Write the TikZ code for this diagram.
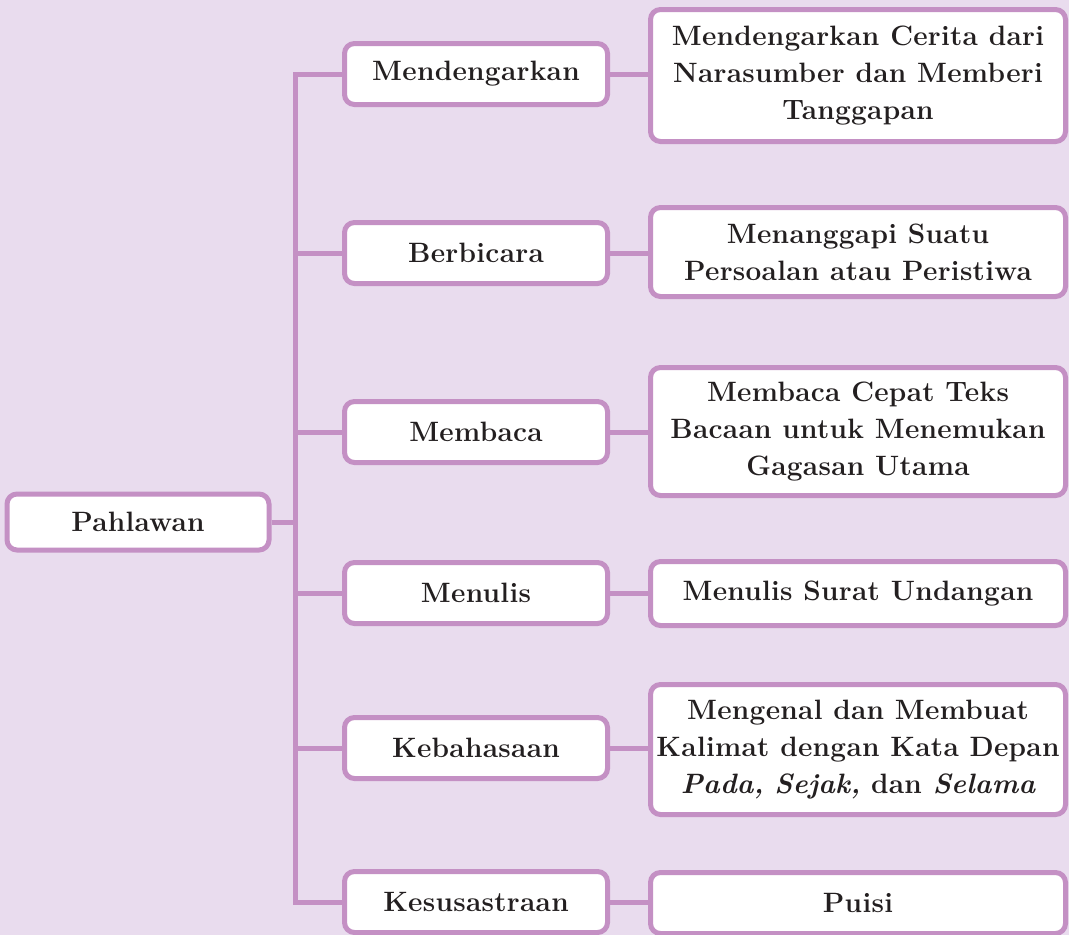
\documentclass[tikz,border=0pt]{standalone}
\usepackage{fontspec}
\setmainfont{Latin Modern Roman}[LetterSpace=1.0]
\definecolor{bgc}{HTML}{E9DCEE}
\definecolor{edge}{HTML}{C490C4}
\definecolor{ink}{HTML}{231F20}
\begin{document}
\begin{tikzpicture}[x=1pt,y=-1pt,
  box/.style={draw=edge, line width=5pt, fill=white, rounded corners=10pt,
    font=\fontsize{28}{37}\selectfont\bfseries, text=ink, align=center, inner sep=0pt},
  mid/.style={box, minimum width=263pt, minimum height=61pt},
  leaf/.style={box, minimum width=415pt},
  conn/.style={draw=edge, line width=5pt}]
\fill[bgc] (0,0) rectangle (1069,935);
\useasboundingbox (0,0) rectangle (1069,935);
\coordinate (t) at (295,0);
\node[box, minimum width=262pt, minimum height=56pt] (p) at (138,522) {Pahlawan};
\node[mid] (m1) at (476,74) {Mendengarkan};
\node[mid] (m2) at (476,253) {Berbicara};
\node[mid] (m3) at (476,432) {Membaca};
\node[mid] (m4) at (476,593) {Menulis};
\node[mid] (m5) at (476,748) {Kebahasaan};
\node[mid] (m6) at (476,902) {Kesusastraan};
\node[leaf, minimum height=132pt] (r1) at (858,75.5) {Mendengarkan Cerita dari\\Narasumber dan Memberi\\Tanggapan};
\node[leaf, minimum height=89pt] (r2) at (858,252) {Menanggapi Suatu\\Persoalan atau Peristiwa};
\node[leaf, minimum height=128pt] (r3) at (858,431.5) {Membaca Cepat Teks\\Bacaan untuk Menemukan\\Gagasan Utama};
\node[leaf, minimum height=64pt] (r4) at (858,593.5) {Menulis Surat Undangan};
\node[leaf, minimum height=130pt] (r5) at (858,749.5) {Mengenal dan Membuat\\Kalimat dengan Kata Depan\\{\itshape Pada,} {\itshape Sejak,} dan {\itshape Selama}};
\node[leaf, minimum height=61pt] (r6) at (858,903) {Puisi};
\draw[conn, line join=miter] (m1.west) -- (m1.west -| t) -- (m6.west -| t) -- (m6.west);
\draw[conn] (p.east) -- (p.east -| t);
\draw[conn] (m2.west) -- (m2.west -| t);
\draw[conn] (m3.west) -- (m3.west -| t);
\draw[conn] (m4.west) -- (m4.west -| t);
\draw[conn] (m5.west) -- (m5.west -| t);
\draw[conn] (m1.east) -- (r1.west |- m1.east);
\draw[conn] (m2.east) -- (r2.west |- m2.east);
\draw[conn] (m3.east) -- (r3.west |- m3.east);
\draw[conn] (m4.east) -- (r4.west |- m4.east);
\draw[conn] (m5.east) -- (r5.west |- m5.east);
\draw[conn] (m6.east) -- (r6.west |- m6.east);
\end{tikzpicture}
\end{document}
